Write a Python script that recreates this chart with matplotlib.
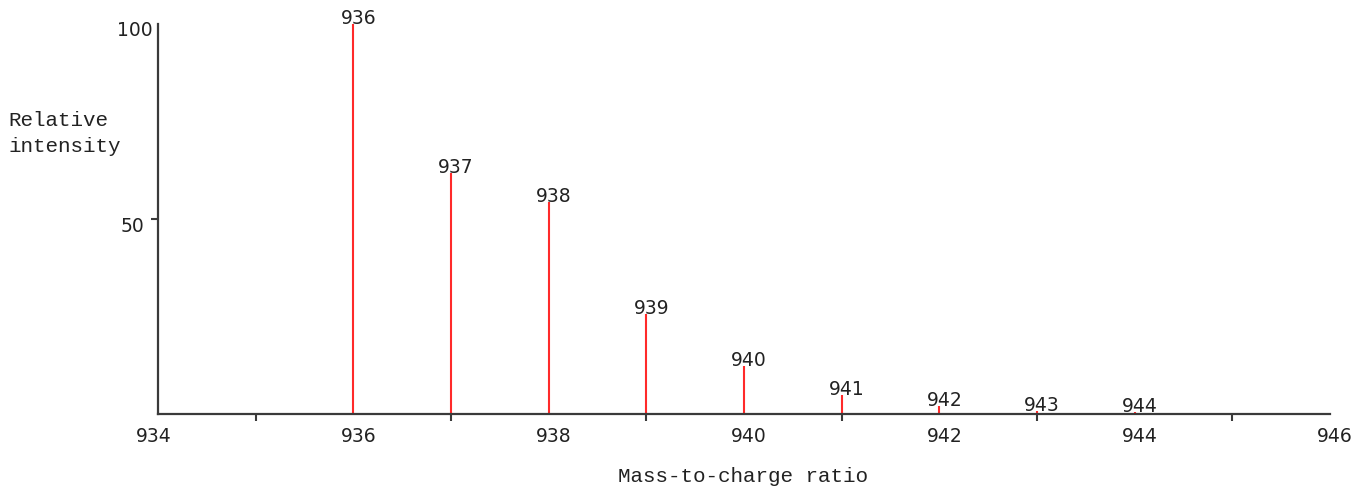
import matplotlib
matplotlib.use("Agg")
import matplotlib.pyplot as plt
from matplotlib.transforms import ScaledTranslation

# Isotope peaks: m/z and relative intensity
mz = [936, 937, 938, 939, 940, 941, 942, 943, 944]
intensity = [100, 61.8, 54.4, 25.5, 12.2, 4.8, 1.9, 0.6, 0.3]
peak_labels = ["936", "937", "938", "939", "940", "941", "942", "943", "944"]

x_major = [934, 936, 938, 940, 942, 944, 946]
x_minor = [935, 937, 939, 941, 943, 945]
y_ticks = [50, 100]

DPI = 100
fig = plt.figure(figsize=(13.66, 4.92), dpi=DPI)
ax = fig.add_axes([158 / 1366, 1 - 413.5 / 492, (1330 - 158) / 1366, (413.5 - 24) / 492])

axis_color = "#3a3a3a"
peak_color = "#ff2a2a"
text_color = "#222222"
label_size = 13.5


def shift_px(dx, dy):
    return ScaledTranslation(dx / DPI, dy / DPI, fig.dpi_scale_trans)


ax.vlines(mz, 0, intensity, colors=peak_color, linewidth=1.5)

# Peak annotations sitting on top of each line
for x, y, lab in zip(mz, intensity, peak_labels):
    ax.annotate(lab, xy=(x, y), xytext=(5, -4), textcoords="offset pixels",
                ha="center", va="bottom", fontsize=label_size, color=text_color,
                family="DejaVu Sans", annotation_clip=False)

ax.set_xlim(934, 946)
ax.set_ylim(0, 100)

for side in ("top", "right"):
    ax.spines[side].set_visible(False)
for side in ("left", "bottom"):
    ax.spines[side].set_color(axis_color)
    ax.spines[side].set_linewidth(1.6)

ax.set_xticks(x_major)
ax.set_xticklabels([str(v) for v in x_major])
ax.set_xticks(x_minor, minor=True)
ax.tick_params(axis="x", which="major", length=0, pad=10, labelsize=label_size,
               labelcolor=text_color)
ax.tick_params(axis="x", which="minor", length=5, width=1.5, color=axis_color,
               direction="out")

for v, lab in zip(x_major, ax.get_xticklabels()):
    dx = -4 if v == x_major[0] else 5
    lab.set_transform(lab.get_transform() + shift_px(dx, 0))

ax.set_yticks(y_ticks)
ax.set_yticklabels([str(v) for v in y_ticks])
ax.tick_params(axis="y", length=5, width=1.5, color=axis_color, direction="out",
               pad=5, labelsize=label_size, labelcolor=text_color)
ylabs = ax.get_yticklabels()
ylabs[0].set_va("top")
ylabs[0].set_transform(ylabs[0].get_transform() + shift_px(0, 2))
ylabs[1].set_transform(ylabs[1].get_transform() + shift_px(9, -4))
ax.yaxis.get_major_ticks()[1].tick1line.set_visible(False)

mono = "Liberation Mono"
fig.text(8 / 1366, 1 - 120 / 492, "Relative", family=mono, fontsize=15,
         color=text_color, ha="left", va="center")
fig.text(8 / 1366, 1 - 147 / 492, "intensity", family=mono, fontsize=15,
         color=text_color, ha="left", va="center")
fig.text(743 / 1366, 1 - 477 / 492, "Mass-to-charge ratio", family=mono,
         fontsize=15, color=text_color, ha="center", va="center")

fig.savefig("out.png", dpi=DPI)
